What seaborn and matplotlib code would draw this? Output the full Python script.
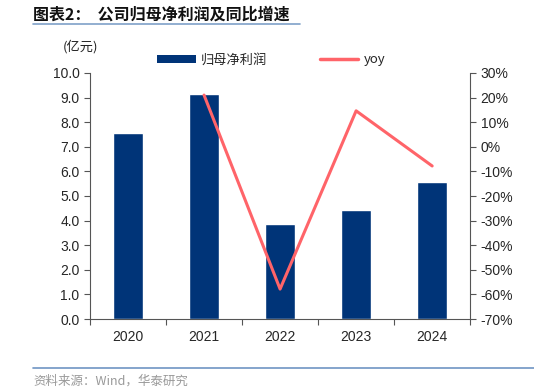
import matplotlib
matplotlib.use("Agg")
import matplotlib.pyplot as plt
import numpy as np
import pandas as pd
import seaborn as sns
from matplotlib.lines import Line2D
from matplotlib.patches import Patch
from matplotlib.ticker import FuncFormatter

# data
years = ["2020", "2021", "2022", "2023", "2024"]
profit = [7.56, 9.13, 3.86, 4.43, 5.57]  # 亿元
yoy_years = ["2021", "2022", "2023", "2024"]
yoy = [21.0, -57.8, 14.6, -7.8]  # %

BLUE = "#003478"
RED = "#FF6469"
CN = ["Noto Sans CJK SC", "DejaVu Sans"]
NUM = ["Liberation Sans", "Noto Sans CJK SC"]

sns.set_theme(style="white")
plt.rcParams["font.family"] = NUM

fig = plt.figure(figsize=(5.34, 3.92), dpi=100)
ax = fig.add_axes([0.1685, 0.186, 0.712, 0.628])

df = pd.DataFrame({"year": years, "profit": profit})
sns.barplot(data=df, x="year", y="profit", color=BLUE, width=0.4,
            saturation=1, ax=ax)
ax.set_xlim(-0.5, len(years) - 0.5)
ax.set_ylim(0, 10)
ax.set_yticks(np.arange(0, 10.01, 1))
ax.yaxis.set_major_formatter(FuncFormatter(lambda v, p: f"{v:.1f}"))
ax.set_xlabel("")
ax.set_ylabel("")
ax.set_xticks(np.arange(-0.5, len(years), 1), minor=False)
ax.set_xticklabels([])
ax.set_xticks(range(len(years)), minor=True)
ax.set_xticklabels(years, minor=True)
ax.tick_params(axis="x", which="minor", length=0, pad=8, labelsize=10)
ax.tick_params(axis="x", which="major", length=4, width=0.8, color="#555555",
               direction="out", bottom=True)
ax.tick_params(axis="y", length=4, width=0.8, color="#555555", direction="out",
               left=True, labelsize=10)

ax2 = ax.twinx()
xpos = [years.index(y) for y in yoy_years]
sns.lineplot(x=xpos, y=yoy, color=RED, linewidth=2.2, ax=ax2)
ax2.set_ylim(-70, 30)
ax2.set_yticks(np.arange(-70, 31, 10))
ax2.yaxis.set_major_formatter(FuncFormatter(lambda v, p: f"{v:.0f}%"))
ax2.set_ylabel("")
ax2.tick_params(axis="y", length=4, width=0.8, color="#555555", direction="out",
                right=True, labelsize=10)
ax.set_xlim(-0.5, len(years) - 0.5)

for a in (ax, ax2):
    a.grid(False)
    a.spines["top"].set_visible(False)
    for s in ("left", "right", "bottom"):
        a.spines[s].set_color("#555555")
        a.spines[s].set_linewidth(0.8)
ax.spines["right"].set_visible(False)
ax2.spines["left"].set_visible(False)
ax2.spines["bottom"].set_visible(False)

# legend
handles = [Patch(facecolor=BLUE, edgecolor="none"),
           Line2D([0], [0], color=RED, linewidth=2.5)]
leg = fig.legend(handles, ["归母净利润", "yoy"], loc="center",
                 bbox_to_anchor=(0.508, 0.847), ncol=2, frameon=False,
                 handlelength=2.9, handleheight=0.6, columnspacing=4.0,
                 handletextpad=0.4, prop={"family": CN, "size": 9.5})

fig.text(0.117, 0.872, "(亿元)", family=CN, fontsize=9.5, color="#222222")

# title and source
fig.text(0.062, 0.962, "图表2：  公司归母净利润及同比增速", family=CN,
         fontsize=11.5, fontweight="bold", color="#111111", va="center")
fig.add_artist(Line2D([0.062, 0.562], [0.939, 0.939], color="#7FA1C8",
                      linewidth=1.2, transform=fig.transFigure))
fig.add_artist(Line2D([0.062, 1.0], [0.061, 0.061], color="#6F95C4",
                      linewidth=1.2, transform=fig.transFigure))
fig.text(0.062, 0.028, "资料来源：Wind，华泰研究", family=CN, fontsize=9,
         color="#999999", va="center")

fig.savefig("out.png", dpi=100)
